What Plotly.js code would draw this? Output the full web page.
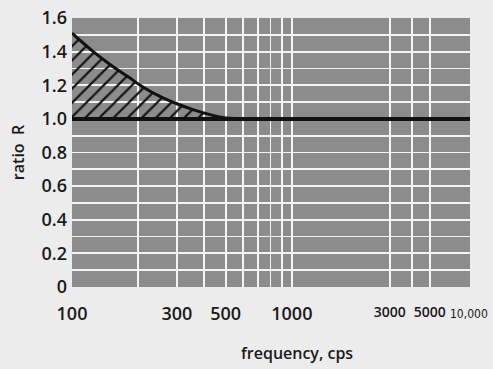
<!DOCTYPE html>
<html>
<head>
<meta charset="utf-8">
<script src="https://cdn.plot.ly/plotly-3.0.1.min.js"></script>
<style>html,body{margin:0;padding:0;background:#ececec;}</style>
</head>
<body>
<div id="chart" style="width:493px;height:369px;"></div>
<script>
// Data
const curveFreq = [100, 125, 150, 180, 210, 250, 300, 355, 425, 485, 580];
const curveRatio = [1.51, 1.40, 1.32, 1.25, 1.19, 1.135, 1.09, 1.055, 1.025, 1.008, 1.0];
const baseRatio = 1.0;
const baseFreqLow = [100, 2000];
const baseFreqHigh = [2000, 10000];

const xTickValsLow = [100, 200, 300, 400, 500, 600, 700, 800, 900, 1000, 2000];
const xTickTextLow = ['100', '', '300', '', '500', '', '', '', '', '1000', ''];
const xTickValsHigh = [3000, 4000, 5000];
const xTickTextHigh = ['3000', '', '5000'];
const lastTickLabel = '10,000';

const yTickVals = [0, 0.1, 0.2, 0.3, 0.4, 0.5, 0.6, 0.7, 0.8, 0.9, 1.0, 1.1, 1.2, 1.3, 1.4, 1.5, 1.6];
const yTickText = ['0', '', '0.2', '', '0.4', '', '0.6', '', '0.8', '', '1.0', '', '1.2', '', '1.4', '', '1.6'];

const font = 'Open Sans, Lato, DejaVu Sans, sans-serif';
const textColor = '#1a1a1a';
const split = 0.7186;

const traces = [
  { x: [curveFreq[0], curveFreq[curveFreq.length - 1]], y: [baseRatio, baseRatio],
    xaxis: 'x', yaxis: 'y', mode: 'lines', line: {width: 0, color: 'rgba(0,0,0,0)'},
    hoverinfo: 'skip', showlegend: false },
  { x: curveFreq, y: curveRatio, xaxis: 'x', yaxis: 'y', mode: 'lines',
    line: {color: '#111', width: 3, shape: 'spline', smoothing: 1},
    fill: 'tonexty', fillcolor: 'rgba(0,0,0,0)',
    fillpattern: {shape: '/', size: 10, solidity: 0.22, fgcolor: '#151515', bgcolor: 'rgba(0,0,0,0)'},
    showlegend: false },
  { x: baseFreqLow, y: [baseRatio, baseRatio], xaxis: 'x', yaxis: 'y', mode: 'lines',
    line: {color: '#111', width: 4}, showlegend: false },
  { x: baseFreqHigh, y: [baseRatio, baseRatio], xaxis: 'x2', yaxis: 'y', mode: 'lines',
    line: {color: '#111', width: 4}, showlegend: false }
];

const layout = {
  width: 493, height: 369,
  margin: {l: 72, r: 23, t: 18, b: 82},
  paper_bgcolor: '#ececec',
  plot_bgcolor: '#8c8c8c',
  font: {family: font, color: textColor},
  showlegend: false,
  xaxis: {
    type: 'log', domain: [0, split], range: [2, Math.log10(2000)],
    tickvals: xTickValsLow, ticktext: xTickTextLow,
    showgrid: true, gridcolor: '#f4f4f4', gridwidth: 1.8,
    ticks: '', ticklabelstandoff: 14, showline: false, zeroline: false,
    tickfont: {size: 18, family: font, weight: 600, color: textColor}
  },
  xaxis2: {
    type: 'log', domain: [split, 1], range: [Math.log10(2000), 3.923], anchor: 'y',
    tickvals: xTickValsHigh, ticktext: xTickTextHigh,
    showgrid: true, gridcolor: '#f4f4f4', gridwidth: 1.8,
    ticks: '', ticklabelstandoff: 15, showline: false, zeroline: false,
    tickfont: {size: 14, family: font, weight: 600, color: textColor}
  },
  yaxis: {
    range: [0, 1.6], tickvals: yTickVals, ticktext: yTickText,
    showgrid: true, gridcolor: '#f4f4f4', gridwidth: 1.8,
    ticks: '', ticklabelstandoff: 4, showline: false, zeroline: false,
    tickfont: {size: 18, family: font, weight: 600, color: textColor},
    title: {text: 'ratio  R', font: {size: 16, family: font, weight: 600, color: textColor}, standoff: 12}
  },
  annotations: [
    { text: lastTickLabel, xref: 'paper', yref: 'paper', x: 1.05, y: 0,
      yanchor: 'top', xanchor: 'right', yshift: -18, showarrow: false,
      font: {size: 12, family: 'DejaVu Sans Condensed, Liberation Sans Narrow, sans-serif', color: textColor} },
    { text: 'frequency, cps', xref: 'paper', yref: 'paper', x: 0.565, y: 0,
      yanchor: 'top', xanchor: 'center', yshift: -53, showarrow: false,
      font: {size: 16, family: font, weight: 600, color: textColor} }
  ]
};

Plotly.newPlot('chart', traces, layout, {displayModeBar: false, staticPlot: true});
</script>
</body>
</html>
